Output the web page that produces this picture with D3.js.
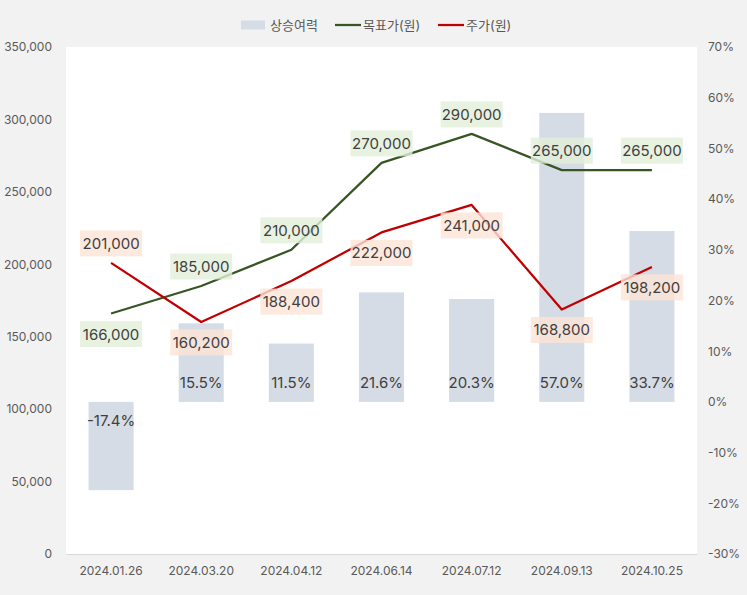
<!DOCTYPE html>
<html>
<head>
<meta charset="utf-8">
<script src="https://cdn.jsdelivr.net/npm/d3@7/dist/d3.min.js"></script>
<style>
  html, body { margin: 0; padding: 0; background: #f2f2f2; }
  svg { display: block; }
  text { font-family: "Inter", "Noto Sans CJK KR", sans-serif; }
</style>
</head>
<body>
<svg id="chart" width="747" height="595"></svg>
<script>
const categories = ["2024.01.26", "2024.03.20", "2024.04.12", "2024.06.14", "2024.07.12", "2024.09.13", "2024.10.25"];
const upside = [-17.4, 15.5, 11.5, 21.6, 20.3, 57.0, 33.7];
const targetPrice = [166000, 185000, 210000, 270000, 290000, 265000, 265000];
const stockPrice = [201000, 160200, 188400, 222000, 241000, 168800, 198200];
const targetLabelPos = ["below", "above", "above", "above", "above", "above", "above"];
const stockLabelPos = ["above", "below", "below", "below", "below", "below", "below"];
const leftTicks = [0, 50000, 100000, 150000, 200000, 250000, 300000, 350000];
const rightTicks = [-30, -20, -10, 0, 10, 20, 30, 40, 50, 60, 70];
const legendNames = ["상승여력", "목표가(원)", "주가(원)"];

const W = 747, H = 595;
const plot = { left: 66, right: 697, top: 47, bottom: 554 };
const svg = d3.select("#chart");

svg.append("rect").attr("x", 0).attr("y", 0).attr("width", W).attr("height", H).attr("fill", "#f2f2f2");
svg.append("rect").attr("x", plot.left).attr("y", plot.top)
  .attr("width", plot.right - plot.left).attr("height", plot.bottom - plot.top).attr("fill", "#ffffff");

const x = d3.scaleBand().domain(categories).range([plot.left, plot.right]).paddingInner(0.5).paddingOuter(0.25);
const yL = d3.scaleLinear().domain([0, 350000]).range([plot.bottom, plot.top]);
const yR = d3.scaleLinear().domain([-30, 70]).range([plot.bottom, plot.top]);
const cx = c => x(c) + x.bandwidth() / 2;

const tickColor = "#595959";
const fmt = d3.format(",");

// Left axis
const axL = d3.axisLeft(yL).tickValues(leftTicks).tickFormat(fmt).tickSize(0).tickPadding(0);
const gL = svg.append("g").attr("transform", `translate(52,0)`).call(axL);
gL.select(".domain").remove();
gL.selectAll("text").attr("fill", tickColor).style("font-size", "12px");

// Right axis
const axR = d3.axisRight(yR).tickValues(rightTicks).tickFormat(d => d + "%").tickSize(0).tickPadding(0);
const gR = svg.append("g").attr("transform", `translate(708,0)`).call(axR);
gR.select(".domain").remove();
gR.selectAll("text").attr("fill", tickColor).style("font-size", "12px");

// Bottom axis
const axB = d3.axisBottom(x).tickSize(0).tickPadding(0);
const gB = svg.append("g").attr("transform", `translate(0,${plot.bottom})`).call(axB);
gB.select(".domain").attr("stroke", "#d9d9d9").attr("stroke-width", 1);
gB.selectAll("text").attr("fill", tickColor).style("font-size", "12px").attr("dy", "0").attr("y", 21);

// Bars
svg.append("g").selectAll("rect").data(categories).join("rect")
  .attr("x", d => x(d))
  .attr("width", x.bandwidth())
  .attr("y", (d, i) => Math.min(yR(upside[i]), yR(0)))
  .attr("height", (d, i) => Math.abs(yR(upside[i]) - yR(0)))
  .attr("fill", "#d6dce5");

// Bar labels
svg.append("g").selectAll("text").data(categories).join("text")
  .attr("x", d => cx(d))
  .attr("y", (d, i) => upside[i] >= 0 ? yR(0) - 19 : yR(0) + 19)
  .attr("text-anchor", "middle").attr("dominant-baseline", "central")
  .attr("fill", "#404040").style("font-size", "15px")
  .text((d, i) => upside[i].toFixed(1) + "%");

// Lines
const line = d3.line().x((d, i) => cx(categories[i]));
svg.append("path").datum(targetPrice)
  .attr("d", line.y(d => yL(d)))
  .attr("fill", "none").attr("stroke", "#375623").attr("stroke-width", 2.25).attr("stroke-linejoin", "round");
svg.append("path").datum(stockPrice)
  .attr("d", line.y(d => yL(d)))
  .attr("fill", "none").attr("stroke", "#c00000").attr("stroke-width", 2.25).attr("stroke-linejoin", "round");

// Data labels
function drawLabels(values, positions, bg) {
  const g = svg.append("g");
  values.forEach((v, i) => {
    const px = cx(categories[i]);
    const py = yL(v) + (positions[i] === "above" ? -19.5 : 20.5);
    const bw = 62, bh = 26;
    g.append("rect").attr("x", px - bw / 2).attr("y", py - bh / 2)
      .attr("width", bw).attr("height", bh).attr("fill", bg).attr("fill-opacity", 0.8);
    g.append("text").attr("x", px).attr("y", py)
      .attr("text-anchor", "middle").attr("dominant-baseline", "central")
      .attr("fill", "#404040").style("font-size", "15px").text(fmt(v));
  });
}
drawLabels(targetPrice, targetLabelPos, "#e2efda");
drawLabels(stockPrice, stockLabelPos, "#fce4d6");

// Legend
const lg = svg.append("g");
const ly = 25;
lg.append("rect").attr("x", 241).attr("y", ly - 4.5).attr("width", 24).attr("height", 9).attr("fill", "#d6dce5");
lg.append("text").attr("x", 270).attr("y", ly).attr("dominant-baseline", "central")
  .attr("fill", tickColor).style("font-size", "13px").text(legendNames[0]);
lg.append("line").attr("x1", 335).attr("x2", 361).attr("y1", ly).attr("y2", ly)
  .attr("stroke", "#375623").attr("stroke-width", 2.25);
lg.append("text").attr("x", 363).attr("y", ly).attr("dominant-baseline", "central")
  .attr("fill", tickColor).style("font-size", "13px").text(legendNames[1]);
lg.append("line").attr("x1", 438).attr("x2", 464).attr("y1", ly).attr("y2", ly)
  .attr("stroke", "#c00000").attr("stroke-width", 2.25);
lg.append("text").attr("x", 466).attr("y", ly).attr("dominant-baseline", "central")
  .attr("fill", tickColor).style("font-size", "13px").text(legendNames[2]);
</script>
</body>
</html>
